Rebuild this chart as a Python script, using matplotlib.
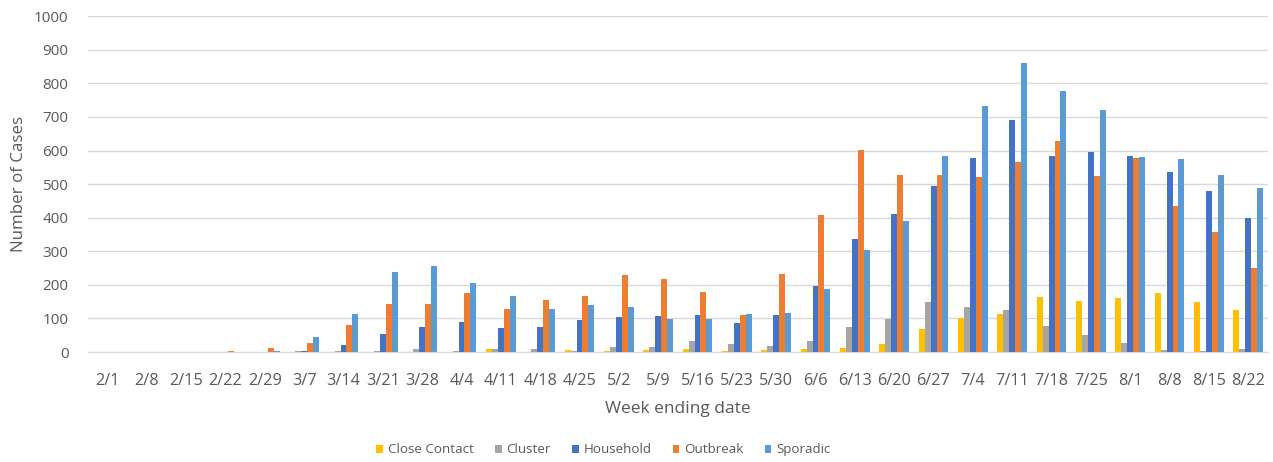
import matplotlib
matplotlib.use("Agg")
import matplotlib.pyplot as plt
import numpy as np

weeks = ["2/1", "2/8", "2/15", "2/22", "2/29", "3/7", "3/14", "3/21", "3/28", "4/4",
         "4/11", "4/18", "4/25", "5/2", "5/9", "5/16", "5/23", "5/30", "6/6", "6/13",
         "6/20", "6/27", "7/4", "7/11", "7/18", "7/25", "8/1", "8/8", "8/15", "8/22"]

close_contact = [0, 0, 0, 0, 0, 0, 0, 0, 0, 0,
                 9, 0, 6, 3, 6, 9, 3, 6, 9, 12,
                 24, 68, 102, 114, 163, 151, 160, 177, 148, 125]
cluster = [0, 0, 0, 0, 0, 3, 4, 4, 9, 3,
           9, 9, 3, 15, 15, 32, 23, 18, 32, 74,
           99, 148, 134, 125, 79, 52, 26, 6, 3, 9]
household = [0, 0, 0, 0, 0, 4, 21, 55, 74, 88,
             71, 74, 94, 103, 108, 111, 85, 111, 196, 338,
             410, 495, 577, 690, 585, 597, 585, 535, 480, 398]
outbreak = [0, 0, 0, 4, 12, 27, 80, 143, 143, 177,
            128, 154, 168, 230, 216, 179, 111, 233, 407, 602,
            526, 526, 521, 565, 628, 523, 579, 435, 358, 250]
sporadic = [0, 0, 0, 0, 4, 44, 112, 239, 256, 207,
            166, 128, 140, 134, 97, 97, 114, 117, 188, 305,
            390, 585, 733, 861, 776, 722, 582, 574, 526, 488]

series_names = ["Close Contact", "Cluster", "Household", "Outbreak", "Sporadic"]
series_vals = [close_contact, cluster, household, outbreak, sporadic]
colors = ["#FFC000", "#A5A5A5", "#4472C4", "#ED7D31", "#5B9BD5"]

plt.rcParams['font.family'] = ['Open Sans', 'DejaVu Sans']
text_color = "#595959"

fig = plt.figure(figsize=(12.73, 4.62), dpi=100)
ax = fig.add_axes([0.069, 0.238, 0.927, 0.727])

x = np.arange(len(weeks))
w = 0.15
for i, (name, vals, c) in enumerate(zip(series_names, series_vals, colors)):
    ax.bar(x + (i - 2) * w, vals, width=w, color=c, label=name, zorder=3)

ax.set_xlim(-0.5, len(weeks) - 0.5)
ax.set_ylim(0, 1000)
ax.set_yticks(np.arange(0, 1001, 100))
ax.set_xticks(x)
ax.set_xticklabels(weeks)
ax.yaxis.grid(True, color="#D9D9D9", linewidth=1, zorder=0)
ax.set_axisbelow(True)
for s in ["top", "right", "left"]:
    ax.spines[s].set_visible(False)
ax.spines["bottom"].set_color("#D9D9D9")
ax.tick_params(axis="both", length=0, colors=text_color)
ax.tick_params(axis="x", pad=15, labelsize=11.7)
ax.tick_params(axis="y", pad=14, labelsize=11)
ax.set_ylabel("Number of Cases", color=text_color, fontsize=12.2, labelpad=5)
ax.set_xlabel("Week ending date", color=text_color, fontsize=12.5, labelpad=9)

leg = fig.legend(loc="center", bbox_to_anchor=(0.474, 0.026), ncol=5, frameon=False,
                 fontsize=9.6, handlelength=0.5, handleheight=0.5, handletextpad=0.35,
                 columnspacing=1.6)
for t in leg.get_texts():
    t.set_color(text_color)

fig.savefig("out.png", dpi=100)
